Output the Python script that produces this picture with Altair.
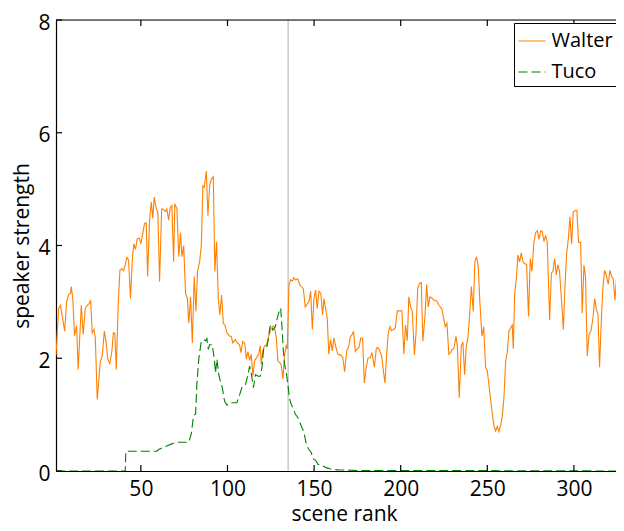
import altair as alt
import pandas as pd

# ---- data ----
walter_x = [1, 2.5, 3.6, 6, 7.1, 8.3, 9.4, 9.8, 10.7, 11.7, 12.9, 13.8, 15.6, 16.7, 17.9, 19, 20.2, 21, 21.9, 22.9,
            23.7, 24.8, 26.6, 27.7, 28.9, 30, 30.9, 32.1, 33.3, 34.1, 35, 35.8, 36.9, 37.9, 39, 40, 41, 41.9, 42.9, 44,
            45.2, 46, 46.9, 47.9, 49.1, 50, 51, 52.1, 53.1, 53.9, 55, 56, 56.9, 57.7, 58.9, 59.8, 60.8, 62, 63.1, 64.3,
            65, 66, 67, 67.9, 68.9, 69.6, 70.8, 71.9, 72.9, 73.7, 74.7, 75.8, 76.8, 77.7, 78.7, 79.7, 80.8, 81.8, 82.7, 83.9,
            84.9, 85.8, 86.6, 87.8, 88.7, 89.7, 90.6, 91.8, 92.7, 93.7, 94.7, 95.6, 96.6, 97.6, 98.5, 99.7, 101.2, 102.2, 103.1, 104.5,
            105.7, 107, 107.7, 108.9, 110, 110.9, 111.8, 112.8, 113.7, 114.7, 115.6, 116.8, 118, 118.9, 119.5, 120.4, 121.4, 122.6, 123.7, 124.9,
            126.2, 127.2, 128.2, 129.1, 130.3, 131.1, 132, 133, 134, 134.5, 135.5, 136.4, 137.6, 138.3, 139.3, 140.6, 141.6, 142.6, 143.8, 144.9,
            146.1, 147, 148, 149, 149.9, 150.9, 151.8, 152.8, 153.9, 154.9, 155.7, 156.6, 157.6, 158.5, 159.5, 160.5, 161.4, 162.4, 163.7, 165.3,
            166.6, 167.6, 168.9, 169.9, 170.9, 171.8, 172.8, 173.8, 174.7, 175.9, 177, 178, 179, 180.1, 181.1, 182.4, 183.4, 183.9, 184.8, 185.9,
            186.8, 187.8, 189, 190, 190.9, 191.9, 192.8, 193.8, 194.7, 195.9, 196.9, 198, 199.4, 200.7, 201.8, 202.8, 203.8, 204.7, 205.7, 206.7,
            207.9, 208.8, 209.8, 210.9, 211.9, 212.8, 214, 215, 215.9, 216.9, 218, 219.2, 220.6, 222.1, 223.8, 224.8, 225.7, 226.7, 227.8, 228.8,
            229.8, 230.7, 231.9, 232.7, 233.8, 235, 235.9, 236.9, 237.9, 238.8, 239.8, 240.8, 241.9, 242.8, 243.8, 244.8, 245.7, 246.9, 247.9, 249,
            250, 250.9, 251.9, 252.9, 253.8, 254.8, 255.8, 256.7, 257.7, 258.7, 259.6, 260.6, 261.5, 262.5, 263.5, 264.4, 265, 265.8, 266.7, 267.7,
            268.7, 269.6, 270.6, 271.5, 272.7, 273.8, 274.8, 275.8, 276.9, 277.9, 278.9, 279.8, 280.8, 281.7, 282.7, 283.7, 284.6, 286, 287, 287.9,
            288.9, 289.8, 290.8, 291.7, 292.9, 293.9, 294.8, 295.8, 296.8, 297.7, 298.7, 299.6, 300.6, 301.7, 302.7, 303.9, 304.8, 305.8, 306.7, 307.7,
            308.7, 309.8, 311, 312, 312.9, 313.9, 314.8, 315.8, 316.7, 317.7, 318.7, 319.8, 320.8, 321.8, 322.7, 323.7, 324.8, 325.8, 326.8, 327.7,
            328.7]
walter_y = [2.05, 2.88, 2.94, 2.48, 3.0, 3.13, 3.15, 3.27, 3.06, 2.40, 2.57, 1.80, 2.94, 2.42, 2.88, 2.94, 2.97, 3.03, 2.45, 2.51,
            2.36, 1.27, 1.95, 2.04, 2.48, 2.27, 1.98, 1.91, 2.13, 2.45, 2.44, 1.80, 2.94, 3.56, 3.59, 3.55, 3.66, 3.79, 3.74, 3.06,
            3.83, 4.03, 3.93, 4.12, 4.13, 4.03, 4.20, 4.39, 4.40, 3.45, 4.45, 4.77, 4.48, 4.86, 4.65, 4.59, 3.36, 4.65, 4.64, 4.60,
            4.65, 4.45, 4.68, 4.71, 3.71, 4.74, 4.65, 3.80, 4.23, 3.80, 4.00, 3.15, 3.06, 2.62, 3.09, 2.27, 3.45, 2.83, 3.54, 3.71,
            4.00, 5.06, 5.03, 5.32, 4.53, 5.06, 5.17, 5.22, 3.54, 4.06, 3.06, 2.77, 3.12, 2.62, 2.59, 2.45, 2.39, 2.39, 2.27, 2.33,
            2.27, 2.24, 2.10, 2.30, 2.26, 1.98, 2.12, 1.96, 2.07, 1.69, 1.95, 2.01, 2.07, 2.22, 1.89, 2.13, 2.22, 2.24, 2.39, 2.51,
            2.57, 2.54, 2.36, 1.95, 1.92, 1.87, 1.63, 2.07, 2.24, 2.16, 3.30, 3.39, 3.37, 3.43, 3.39, 3.41, 3.31, 3.27, 3.23, 2.91,
            2.97, 3.00, 3.19, 2.51, 3.06, 3.21, 2.88, 3.19, 3.15, 2.77, 3.06, 2.88, 2.71, 2.07, 2.33, 2.13, 2.36, 2.22, 2.07, 2.06,
            2.01, 1.76, 2.14, 2.20, 2.38, 2.41, 2.48, 2.12, 2.16, 2.19, 2.36, 2.35, 1.56, 1.84, 2.00, 2.01, 2.10, 2.01, 1.84, 2.17,
            2.19, 2.14, 2.04, 1.78, 1.56, 2.07, 2.45, 2.56, 2.49, 2.51, 2.54, 2.84, 2.84, 2.84, 2.07, 2.59, 2.31, 3.09, 2.91, 2.83,
            2.06, 2.42, 3.24, 3.33, 3.34, 2.30, 2.74, 3.31, 2.91, 3.09, 3.07, 3.03, 3.02, 2.94, 2.87, 2.71, 2.56, 2.62, 2.07, 2.10,
            2.16, 2.17, 2.39, 2.22, 1.30, 2.22, 2.29, 1.71, 2.22, 2.36, 2.77, 3.27, 2.83, 3.71, 3.80, 3.62, 3.00, 2.39, 2.56, 1.84,
            1.78, 1.54, 1.27, 1.01, 0.81, 0.71, 0.79, 0.70, 0.81, 0.98, 1.30, 1.95, 2.10, 2.48, 2.54, 2.59, 2.17, 3.15, 3.39, 3.83,
            3.71, 3.87, 3.71, 3.68, 3.66, 2.74, 3.77, 3.54, 4.06, 4.23, 4.26, 4.11, 4.26, 4.25, 4.07, 4.18, 4.06, 2.68, 3.51, 3.54,
            3.77, 3.48, 3.66, 3.54, 3.00, 2.51, 3.24, 3.86, 4.12, 4.51, 4.03, 4.59, 4.62, 4.62, 4.06, 4.05, 2.80, 3.65, 3.45, 2.04,
            2.42, 2.48, 2.71, 3.06, 2.87, 2.78, 1.84, 2.65, 3.24, 3.56, 3.47, 3.31, 3.56, 3.45, 3.41, 3.03, 3.51, 3.86, 3.62, 3.94,
            3.83]

tuco_x = [1, 41, 41.3, 59.2, 60.3, 63.7, 68.5, 71.4, 77.7, 79.1, 80.4, 81.6, 82.3, 83.5, 84.9, 86.2, 87.4, 88.1, 88.9, 89.7,
          91.2, 92.4, 93.1, 93.9, 95, 95.8, 97, 98.3, 99.7, 101.2, 105.4, 107, 108.3, 110.3, 111.6, 112.8, 113.7, 115, 116.2, 117.6,
          118.9, 119.9, 120.8, 121.8, 122.8, 123.7, 124.5, 125.3, 126.2, 127.6, 128.5, 129.5, 130.7, 131.4, 132.2, 133, 134.1, 134.9, 135.7, 136.8,
          138.2, 139.1, 140.6, 142.6, 144.1, 145.5, 146.8, 148.4, 149.3, 150.9, 152.2, 154.5, 157, 159.9, 163.7, 175, 200, 329]
tuco_y = [0, 0, 0.35, 0.35, 0.38, 0.43, 0.49, 0.51, 0.51, 0.66, 0.98, 1.01, 1.53, 2.01, 2.30, 2.33, 2.31, 2.35, 2.16, 2.24,
          2.24, 1.98, 1.74, 1.98, 1.71, 1.60, 1.48, 1.24, 1.17, 1.21, 1.21, 1.35, 1.48, 1.52, 1.68, 1.86, 1.74, 1.48, 1.71, 1.68,
          1.68, 1.83, 2.15, 2.21, 2.21, 2.35, 2.56, 2.59, 2.50, 2.56, 2.68, 2.80, 2.89, 2.59, 2.15, 1.89, 1.71, 1.53, 1.30, 1.18,
          1.10, 1.01, 0.95, 0.80, 0.69, 0.48, 0.39, 0.33, 0.22, 0.19, 0.12, 0.10, 0.06, 0.03, 0.02, 0.01, 0.01, 0]

series_names = ["Walter", "Tuco"]
series_colors = ["#FF8000", "#008000"]
marker_scene = [135]
x_ticks = [50, 100, 150, 200, 250, 300]
y_ticks = [0, 2, 4, 6, 8]

# ---- tables ----
rows = []
for i, (x, y) in enumerate(zip(walter_x, walter_y)):
    rows.append({"scene": x, "strength": y, "who": "Walter", "i": i})
for i, (x, y) in enumerate(zip(tuco_x, tuco_y)):
    rows.append({"scene": x, "strength": y, "who": "Tuco", "i": i})
lines_df = pd.DataFrame(rows)
xt_df = pd.DataFrame({"t": x_ticks})
yt_df = pd.DataFrame({"v": y_ticks})
mk_df = pd.DataFrame({"s": marker_scene})

W, H = 560, 451
FONT = "Open Sans"
# the reference is cropped at its right edge; the visible window ends near scene 324
xscale = alt.Scale(domain=[1, 324.3], nice=False, zero=False)
yscale = alt.Scale(domain=[0, 8], nice=False)

x_axis = alt.Axis(values=x_ticks, ticks=False, grid=False, domainColor="black", domainWidth=1.2,
                  labelFontSize=21, labelPadding=7, labelColor="black", labelFont=FONT, format="d",
                  title="scene rank", titleFontSize=21, titleFontWeight="normal", titleFont=FONT,
                  titleColor="black", titleX=288, titleY=49, titleBaseline="alphabetic", titleAlign="center")
y_axis = alt.Axis(values=y_ticks, ticks=False, grid=False, domainColor="black", domainWidth=1.2,
                  labelFontSize=21, labelPadding=6, labelColor="black", labelFont=FONT, labelOffset=3, format="d",
                  title="speaker strength", titleFontSize=21, titleFontWeight="normal", titleFont=FONT,
                  titleColor="black", titleX=-28, titleY=H / 2, titleBaseline="alphabetic", titleAlign="center",
                  titleAngle=270)

legend = alt.Legend(orient="none", legendX=458, legendY=3, symbolType="stroke", symbolSize=729,
                    symbolStrokeWidth=1.2, labelFontSize=20, labelFont=FONT, labelColor="black",
                    strokeColor="black", fillColor="white", padding=3.5, rowPadding=6, labelOffset=5)

lines = alt.Chart(lines_df).mark_line(strokeWidth=1.1, clip=True).encode(
    x=alt.X("scene:Q", scale=xscale, axis=x_axis),
    y=alt.Y("strength:Q", scale=yscale, axis=y_axis),
    color=alt.Color("who:N", scale=alt.Scale(domain=series_names, range=series_colors), title=None, legend=legend,
                    sort=series_names),
    strokeDash=alt.StrokeDash("who:N", scale=alt.Scale(domain=series_names, range=[[1, 0], [9, 4]]), title=None,
                              legend=legend, sort=series_names),
    order="i:Q",
)

marker = alt.Chart(mk_df).mark_rule(color="#b0b0b0", strokeWidth=1).encode(x="s:Q")

bottom_ticks = alt.Chart(xt_df).mark_rule(color="black", strokeWidth=1.2).encode(
    x="t:Q", y=alt.value(H), y2=alt.value(H - 6))
top_ticks = alt.Chart(xt_df).mark_rule(color="black", strokeWidth=1.2).encode(
    x="t:Q", y=alt.value(0), y2=alt.value(6))
left_ticks = alt.Chart(yt_df).mark_rule(color="black", strokeWidth=1.2).encode(
    y="v:Q", x=alt.value(0), x2=alt.value(6))
top_frame = alt.Chart(xt_df.head(1)).mark_rule(color="black", strokeWidth=1.2).encode(
    x=alt.value(0), x2=alt.value(W), y=alt.value(0))

chart = alt.layer(marker, lines, bottom_ticks, top_ticks, left_ticks, top_frame).properties(
    width=W, height=H, autosize="none",
    padding={"left": 48, "top": 12, "right": 0, "bottom": 56},
).configure_view(strokeWidth=0).configure(font=FONT, background="white")

chart.save("out.html", embed_options={"renderer": "svg", "actions": False})
